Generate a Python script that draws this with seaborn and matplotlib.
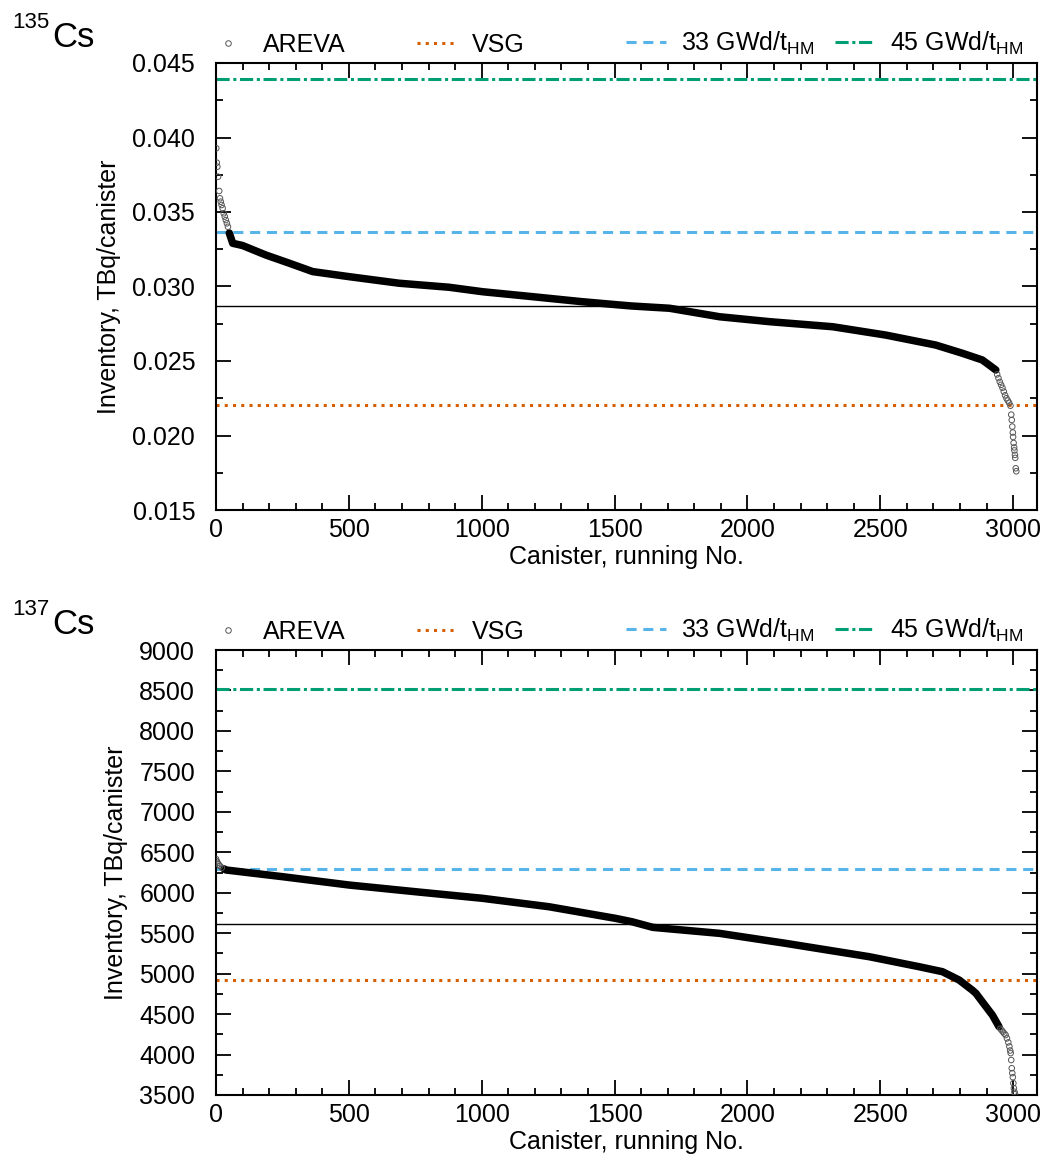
import numpy as np
import pandas as pd
import matplotlib
matplotlib.use("Agg")
import matplotlib.pyplot as plt
from matplotlib.lines import Line2D
from matplotlib.ticker import MultipleLocator
import seaborn as sns

# ---------------------------------------------------------------- data
# Cs-135: canister inventories sorted in descending order (TBq/canister)
cs135_body_no = [50, 63, 100, 188, 270, 364, 501, 689, 877, 1003, 1190, 1378,
                 1519, 1566, 1707, 1895, 2083, 2321, 2521, 2709, 2809, 2884,
                 2935]
cs135_body_val = [0.03359, 0.03290, 0.03275, 0.03211, 0.03160, 0.03100, 0.03066,
                  0.03022, 0.02995, 0.02965, 0.02932, 0.02898, 0.02876, 0.02869,
                  0.02854, 0.02797, 0.02764, 0.02730, 0.02674, 0.02607, 0.02552,
                  0.02507, 0.02440]
cs135_head_no = [1, 3, 5, 8, 12, 15, 18, 21, 25, 29, 33, 37, 41, 45]
cs135_head_val = [0.03928, 0.03831, 0.03804, 0.03737, 0.03641, 0.03592, 0.03569,
                  0.03547, 0.03525, 0.03491, 0.03469, 0.03446, 0.03424, 0.03401]
cs135_tail_no = [2940, 2945, 2950, 2955, 2960, 2965, 2970, 2975, 2980, 2985,
                 2990, 2993, 2995, 2997, 2999, 3000, 3002, 3004, 3005, 3007,
                 3008, 3010, 3012]
cs135_tail_val = [0.02410, 0.02385, 0.02360, 0.02340, 0.02320, 0.02295, 0.02270,
                  0.02250, 0.02235, 0.02220, 0.02200, 0.02140, 0.02104, 0.02060,
                  0.02020, 0.01990, 0.01950, 0.01920, 0.01900, 0.01870, 0.01850,
                  0.01780, 0.01760]
cs135_refs = {"mean": 0.02871, "VSG": 0.02205, "33": 0.03366, "45": 0.04393}

# Cs-137: canister inventories sorted in descending order (TBq/canister)
cs137_body_no = [30, 38, 251, 501, 752, 1003, 1253, 1504, 1566, 1644, 1895, 2145,
                 2459, 2647, 2734, 2797, 2846, 2860, 2879, 2922, 2947]
cs137_body_val = [6295, 6281, 6198, 6095, 6012, 5931, 5827, 5683, 5641, 5572,
                  5498, 5374, 5209, 5085, 5024, 4921, 4797, 4757, 4674, 4488,
                  4344]
cs137_head_no = [0, 3, 6, 10, 15, 22]
cs137_head_val = [6417, 6390, 6370, 6350, 6330, 6310]
cs137_tail_no = [2952, 2957, 2962, 2967, 2972, 2977, 2982, 2986, 2989, 2991,
                 2993, 2995, 2997, 2999, 3001, 3003, 3005, 3007]
cs137_tail_val = [4320, 4300, 4280, 4260, 4241, 4200, 4150, 4100, 4050, 4018,
                  3932, 3831, 3770, 3720, 3646, 3584, 3540, 3510]
cs137_refs = {"mean": 5609, "VSG": 4921, "33": 6293, "45": 8515}

# ---------------------------------------------------------------- style
sns.set_theme(style="ticks")
plt.rcParams["font.family"] = ["Liberation Sans", "DejaVu Sans"]
plt.rcParams.update({
    "mathtext.fontset": "custom",
    "mathtext.rm": "Liberation Sans",
    "mathtext.it": "Liberation Sans:italic",
    "mathtext.bf": "Liberation Sans:bold",
    "font.size": 18,
    "axes.linewidth": 1.5,
    "text.color": "black",
    "axes.labelcolor": "black",
    "xtick.color": "black",
    "ytick.color": "black",
    "axes.edgecolor": "black",
})

C_VSG = "#D55E00"
C_33 = "#56B4E9"
C_45 = "#009E73"
C_PT = "#555555"

LS_VSG = (0, (1.0, 1.7))
LS_33 = (0, (3.3, 2.2))
LS_45 = (0, (4.3, 1.2, 1.0, 1.2))

fig = plt.figure(figsize=(10.43, 11.62), dpi=100)
W, H = 1043, 1162
ax1 = fig.add_axes([216 / W, 1 - 510 / H, 821 / W, 447 / H])
ax2 = fig.add_axes([216 / W, 1 - 1095 / H, 821 / W, 445 / H])


def draw_panel(ax, body_no, body_val, head_no, head_val, tail_no, tail_val,
               refs, ylim, ymajor, yminor, fmt, mass, base_y):
    body = pd.DataFrame({"no": body_no, "val": body_val})
    pts = pd.DataFrame({"no": head_no + tail_no, "val": head_val + tail_val})

    ax.axhline(refs["45"], color=C_45, lw=2.2, ls=LS_45, zorder=1)
    ax.axhline(refs["33"], color=C_33, lw=2.2, ls=LS_33, zorder=1)
    ax.axhline(refs["VSG"], color=C_VSG, lw=2.2, ls=LS_VSG, zorder=1)
    ax.axhline(refs["mean"], color="black", lw=1.0, zorder=1)

    sns.lineplot(data=body, x="no", y="val", ax=ax, color="black", lw=5.4,
                 solid_capstyle="round", solid_joinstyle="round", zorder=3,
                 legend=False)
    sns.scatterplot(data=pts, x="no", y="val", ax=ax, marker="o", s=16,
                    facecolor="none", edgecolor=C_PT, linewidth=0.7,
                    zorder=4, legend=False)

    ax.set_xlim(0, 3090)
    ax.set_ylim(*ylim)
    ax.xaxis.set_major_locator(MultipleLocator(500))
    ax.xaxis.set_minor_locator(MultipleLocator(100))
    ax.yaxis.set_major_locator(MultipleLocator(ymajor))
    ax.yaxis.set_minor_locator(MultipleLocator(yminor))
    ax.yaxis.set_major_formatter(plt.FormatStrFormatter(fmt))
    ax.tick_params(which="both", direction="in", top=True, right=True,
                   labelsize=18, width=1.3, color="black", labelcolor="black")
    ax.tick_params(axis="x", which="both", pad=6)
    ax.tick_params(axis="y", which="both", pad=15)
    ax.tick_params(which="major", length=11)
    ax.tick_params(which="minor", length=5)
    ax.set_xlabel("Canister, running No.", fontsize=18, labelpad=2)
    ax.set_ylabel("Inventory, TBq/canister", fontsize=18, labelpad=8)
    for sp in ax.spines.values():
        sp.set_visible(True)
        sp.set_color("black")

    # legend entries sit in four equal-width slots above the frame
    handles = [
        Line2D([], [], ls="none", marker="o", ms=4, mfc="none", mec=C_PT, mew=0.7),
        Line2D([], [], color=C_VSG, lw=2.2, ls=LS_VSG),
        Line2D([], [], color=C_33, lw=2.2, ls=LS_33),
        Line2D([], [], color=C_45, lw=2.2, ls=LS_45),
    ]
    labels = ["AREVA", "VSG", r"33 GWd/t$_{\mathrm{HM}}$", r"45 GWd/t$_{\mathrm{HM}}$"]
    slot_x = [-0.0097, 0.2448, 0.4994, 0.7540]
    for i, (h, lab, sx) in enumerate(zip(handles, labels, slot_x)):
        leg = ax.legend([h], [lab], loc="lower left", bbox_to_anchor=(sx, 1.013),
                        frameon=False, fontsize=18, handlelength=1.6,
                        handletextpad=0.6, borderaxespad=0.0, borderpad=0.0)
        if i < len(handles) - 1:
            ax.add_artist(leg)

    # nuclide name with mass number as a raised prefix
    fig.text(12 / W, 1 - (base_y - 19) / H, mass, fontsize=16, va="baseline", ha="left")
    fig.text(52 / W, 1 - base_y / H, "Cs", fontsize=25, va="baseline", ha="left")


draw_panel(ax1, cs135_body_no, cs135_body_val, cs135_head_no, cs135_head_val,
           cs135_tail_no, cs135_tail_val, cs135_refs,
           (0.015, 0.045), 0.005, 0.0025, "%.3f", "135", 47)
draw_panel(ax2, cs137_body_no, cs137_body_val, cs137_head_no, cs137_head_val,
           cs137_tail_no, cs137_tail_val, cs137_refs,
           (3500, 9000), 500, 250, "%d", "137", 634)

fig.savefig("out.png", dpi=100)
